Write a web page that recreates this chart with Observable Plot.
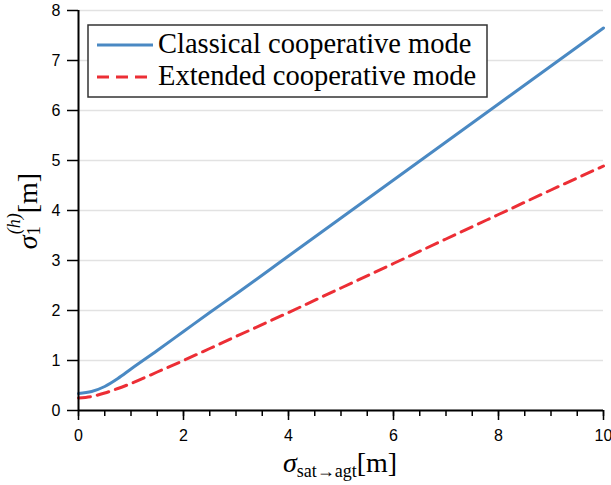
<!DOCTYPE html>
<html><head><meta charset="utf-8">
<script src="https://cdn.jsdelivr.net/npm/d3@7"></script>
<script src="https://cdn.jsdelivr.net/npm/@observablehq/plot@0.6"></script>
<style>body{margin:0;background:#fff}#chart{width:611px;height:485px}</style>
</head><body><div id="chart"></div>
<script>
const xValues   = [0, 0.25, 0.5, 0.75, 1, 1.5, 2, 2.5, 3, 4, 5, 6, 7, 8, 9, 10];
const classical = [0.34, 0.38, 0.48, 0.64, 0.83, 1.20, 1.58, 1.96, 2.33, 3.09, 3.85, 4.61, 5.37, 6.13, 6.89, 7.65];
const extended  = [0.25, 0.28, 0.35, 0.44, 0.54, 0.77, 1.00, 1.24, 1.48, 1.96, 2.45, 2.94, 3.43, 3.92, 4.41, 4.89];
const seriesNames = ["Classical cooperative mode", "Extended cooperative mode"];
const seriesColors = ["#4a89c3", "#ec2e35"];
const xTicks = [0, 2, 4, 6, 8, 10];
const xMinorTicks = [0, 0.5, 1, 1.5, 2, 2.5, 3, 3.5, 4, 4.5, 5, 5.5, 6, 6.5, 7, 7.5, 8, 8.5, 9, 9.5, 10];
const yTicks = [0, 1, 2, 3, 4, 5, 6, 7, 8];

const rowsA = xValues.map((x, i) => ({x, y: classical[i]}));
const rowsB = xValues.map((x, i) => ({x, y: extended[i]}));

const plot = Plot.plot({
  width: 611, height: 485,
  marginLeft: 78, marginRight: 8, marginTop: 10, marginBottom: 75,
  x: {domain: [0, 10], label: null},
  y: {domain: [0, 8], label: null},
  style: {fontFamily: "'Liberation Sans', Arial, sans-serif", fontSize: "16px", color: "#000", background: "#fff"},
  marks: [
    Plot.gridY(yTicks, {stroke: "#e2e2e2", strokeOpacity: 1, strokeWidth: 1.3}),
    Plot.axisY(yTicks, {tickSize: 11, tickPadding: 7, fontSize: 16, strokeWidth: 1.5, label: null, tickFormat: d => String(d)}),
    Plot.axisX(xMinorTicks, {tickSize: 6, tickFormat: () => "", strokeWidth: 1.5, label: null}),
    Plot.axisX(xTicks, {tickSize: 10, tickPadding: 9, fontSize: 16, strokeWidth: 1.5, label: null, tickFormat: d => String(d)}),
    Plot.line(rowsB, {x: "x", y: "y", curve: "monotone-x", stroke: seriesColors[1], strokeWidth: 3, strokeDasharray: "12,7"}),
    Plot.line(rowsA, {x: "x", y: "y", curve: "monotone-x", stroke: seriesColors[0], strokeWidth: 3}),
    Plot.ruleX([0], {stroke: "#000", strokeWidth: 2}),
    Plot.ruleY([0], {stroke: "#000", strokeWidth: 2})
  ]
});

const svg = d3.select(plot);
const serif = "'Liberation Serif', 'Times New Roman', serif";

// Legend
const lg = svg.append("g");
lg.append("rect").attr("x", 88).attr("y", 25).attr("width", 399).attr("height", 72)
  .attr("fill", "#fff").attr("stroke", "#333").attr("stroke-width", 1.5);
seriesNames.forEach((name, i) => {
  const yy = 45 + i * 32;
  lg.append("line").attr("x1", 97).attr("x2", 153).attr("y1", yy).attr("y2", yy)
    .attr("stroke", seriesColors[i]).attr("stroke-width", 3)
    .attr("stroke-dasharray", i === 1 ? "12,7" : null);
  lg.append("text").attr("x", 158).attr("y", yy + 8).attr("text-anchor", "start")
    .attr("font-family", serif).attr("font-size", 28.5).attr("fill", "#000").text(name);
});

// X label
const xl = svg.append("text").attr("x", 340).attr("y", 472).attr("text-anchor", "middle")
  .attr("font-family", serif).attr("font-size", 28).attr("fill", "#000");
xl.append("tspan").attr("font-style", "italic").text("σ");
xl.append("tspan").attr("font-size", 18).attr("dy", 5).text("sat→agt");
xl.append("tspan").attr("dy", -5).text("[m]");

// Y label
const yl = svg.append("text").attr("transform", "translate(37,211) rotate(-90)").attr("text-anchor", "middle")
  .attr("font-family", serif).attr("font-size", 28).attr("fill", "#000");
yl.append("tspan").attr("font-style", "italic").text("σ");
yl.append("tspan").attr("font-size", 18).attr("dy", 3).text("1");
yl.append("tspan").attr("font-size", 18).attr("font-style", "italic").attr("dx", -8).attr("dy", -20).text("(h)");
yl.append("tspan").attr("dy", 17).text("[m]");

document.getElementById("chart").appendChild(plot);
</script>
</body></html>
